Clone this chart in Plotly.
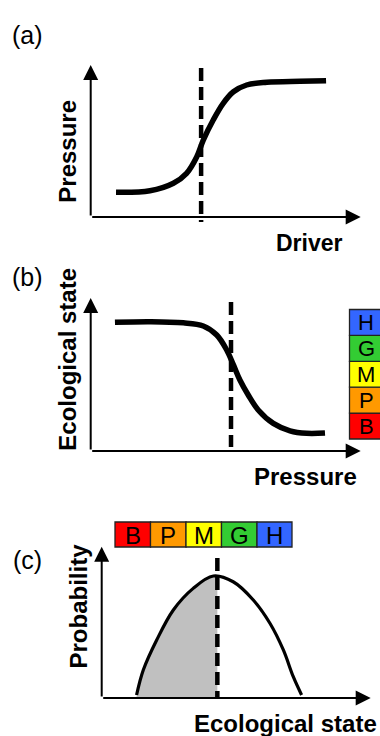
import plotly.graph_objects as go

W, H = 380, 736

# ---------------- data (abstract units, 0-100 on each axis) ----------------
# Panel (a): Driver -> Pressure
a_x = [9.4, 22.0, 30.7, 35.6, 39.4, 41.8, 45.5, 49.2, 53.0, 57.9, 65.4, 77.7, 87.4]
a_y = [16.5, 17.5, 22.5, 29.1, 40.2, 51.3, 64.7, 75.8, 83.5, 88.0, 89.8, 90.5, 90.9]
a_thr = 41.0
a_thr_span = [99.3, -3.3]

# Panel (b): Pressure -> Ecological state
b_x = [9.0, 22.0, 34.4, 41.8, 46.8, 50.5, 53.0, 55.4, 58.5, 62.2, 67.8, 74.0, 80.2, 87.0]
b_y = [85.2, 85.6, 84.9, 82.8, 76.8, 66.9, 57.0, 47.0, 37.1, 27.2, 18.3, 13.4, 11.7, 11.9]
b_thr = 52.1
b_thr_span = [98.7, 2.6]

# Panel (c): Ecological state -> Probability
c_x = [13.0, 15.5, 20.5, 26.7, 34.1, 41.6, 49.0, 56.5, 62.7, 67.7, 71.4, 74.5]
c_y = [2.0, 18.5, 38.4, 58.3, 72.6, 80.8, 77.0, 64.9, 49.5, 31.8, 14.1, 2.0]
c_shade_x = [13.0, 15.5, 20.5, 26.7, 34.1, 41.6, 43.1]
c_shade_y = [2.0, 18.5, 38.4, 58.3, 72.6, 80.8, 80.7]
c_thr = 43.1
c_thr_span = [92.7, 0.7]

# Ecological status classes
classes = ["B", "P", "M", "G", "H"]
class_colors = ["#FF0000", "#FF9900", "#FFFF00", "#33CC33", "#3366FF"]

panel_labels = ["(a)", "(b)", "(c)"]
x_titles = ["Driver", "Pressure", "Ecological state"]
y_titles = ["Pressure", "Ecological state", "Probability"]

# ---------------- layout geometry (pixels) ----------------
FONT = "Liberation Sans, Arial, Helvetica, sans-serif"
panels = [
    dict(ox=90.7, oy=217.0, x100=360.0, y100=67.0, tipx=360.7, tipy=65.0,
         box=(70, 40, 375, 235)),
    dict(ox=90.7, oy=451.0, x100=360.0, y100=300.0, tipx=360.7, tipy=298.0,
         box=(70, 285, 375, 462)),
    dict(ox=101.7, oy=698.0, x100=370.0, y100=547.0, tipx=370.7, tipy=546.7,
         box=(80, 535, 378, 710)),
]

fig = go.Figure()
layout_axes = {}
annotations = []
shapes = []

for i, p in enumerate(panels):
    sx = (p["x100"] - p["ox"]) / 100.0
    sy = (p["oy"] - p["y100"]) / 100.0
    x0, y0, x1, y1 = p["box"]
    xr = [(x0 - p["ox"]) / sx, (x1 - p["ox"]) / sx]
    yr = [(p["oy"] - y1) / sy, (p["oy"] - y0) / sy]
    xn = "xaxis" if i == 0 else f"xaxis{i+1}"
    yn = "yaxis" if i == 0 else f"yaxis{i+1}"
    xa = "x" if i == 0 else f"x{i+1}"
    ya = "y" if i == 0 else f"y{i+1}"
    layout_axes[xn] = dict(domain=[x0 / W, x1 / W], range=xr, visible=False,
                           anchor=ya, fixedrange=True)
    layout_axes[yn] = dict(domain=[1 - y1 / H, 1 - y0 / H], range=yr, visible=False,
                           anchor=xa, fixedrange=True)
    p["xa"], p["ya"] = xa, ya
    tipx = (p["tipx"] - p["ox"]) / sx
    tipy = (p["oy"] - p["tipy"]) / sy
    for (tx, ty) in [(tipx, 0), (0, tipy)]:
        annotations.append(dict(
            x=tx, y=ty, ax=0, ay=0, xref=xa, yref=ya, axref=xa, ayref=ya,
            text="", showarrow=True, arrowhead=2, arrowsize=1.5, arrowwidth=2,
            arrowcolor="black", standoff=0, startstandoff=0))

pa, pb, pc = panels

# shaded area in (c)
fig.add_trace(go.Scatter(x=c_shade_x, y=c_shade_y, mode="lines", fill="tozeroy",
                         fillcolor="#C0C0C0", line=dict(width=0, shape="spline"),
                         xaxis=pc["xa"], yaxis=pc["ya"], hoverinfo="skip"))

curves = [(a_x, a_y, pa, 5.5), (b_x, b_y, pb, 5.5), (c_x, c_y, pc, 3.2)]
for cx, cy, p, w in curves:
    fig.add_trace(go.Scatter(x=cx, y=cy, mode="lines",
                             line=dict(color="black", width=w, shape="spline", smoothing=1.0),
                             xaxis=p["xa"], yaxis=p["ya"], hoverinfo="skip"))

thrs = [(a_thr, a_thr_span, pa), (b_thr, b_thr_span, pb), (c_thr, c_thr_span, pc)]
for t, span, p in thrs:
    fig.add_trace(go.Scatter(x=[t, t], y=span, mode="lines",
                             line=dict(color="black", width=4.5, dash="13px,6px"),
                             xaxis=p["xa"], yaxis=p["ya"], hoverinfo="skip"))

def px(x):
    return x / W

def py(y):
    return 1 - y / H

# panel letters
for lab, (lx, ly) in zip(panel_labels, [(28, 35), (27.5, 277), (27, 560)]):
    annotations.append(dict(x=px(lx), y=py(ly), xref="paper", yref="paper", text=lab,
                            showarrow=False, xanchor="center", yanchor="middle",
                            font=dict(family=FONT, size=25, color="black")))

# x titles
for t, (lx, ly), fs in zip(x_titles, [(309.7, 242.6), (305, 476.7), (285, 723)], [23, 24, 24]):
    annotations.append(dict(x=px(lx), y=py(ly), xref="paper", yref="paper",
                            text=f"<b>{t}</b>", showarrow=False,
                            xanchor="center", yanchor="middle",
                            font=dict(family=FONT, size=fs, color="black")))
# y titles (rotated)
for t, (lx, ly) in zip(y_titles, [(66.7, 151), (66.7, 359), (77.5, 606)]):
    annotations.append(dict(x=px(lx), y=py(ly), xref="paper", yref="paper",
                            text=f"<b>{t}</b>", showarrow=False, textangle=-90,
                            xanchor="center", yanchor="middle",
                            font=dict(family=FONT, size=24, color="black")))

# class boxes: vertical stack in (b) (bottom B -> top H)
stack_x0, stack_x1 = 349.5, 383.0
stack_bottom, stack_top = 439.0, 309.5
step = (stack_bottom - stack_top) / len(classes)
for k, (c, col) in enumerate(zip(classes, class_colors)):
    yb = stack_bottom - k * step
    yt = yb - step
    shapes.append(dict(type="rect", xref="paper", yref="paper",
                       x0=px(stack_x0), x1=px(stack_x1), y0=py(yb), y1=py(yt),
                       fillcolor=col, line=dict(color="#222222", width=1.3)))
    annotations.append(dict(x=px(366.0), y=py((yb + yt) / 2 + 0.5), xref="paper", yref="paper",
                            text=c, showarrow=False, xanchor="center", yanchor="middle",
                            font=dict(family=FONT, size=22, color="black")))

# horizontal row in (c)
row_edges = [115.0, 150.5, 186.0, 221.5, 257.0, 292.0]
row_y0, row_y1 = 547.0, 522.0
for k, (c, col) in enumerate(zip(classes, class_colors)):
    xl, xr_ = row_edges[k], row_edges[k + 1]
    shapes.append(dict(type="rect", xref="paper", yref="paper",
                       x0=px(xl), x1=px(xr_), y0=py(row_y0), y1=py(row_y1),
                       fillcolor=col, line=dict(color="#222222", width=1.3)))
    annotations.append(dict(x=px((xl + xr_) / 2), y=py((row_y0 + row_y1) / 2 + 0.5),
                            xref="paper", yref="paper",
                            text=c, showarrow=False, xanchor="center", yanchor="middle",
                            font=dict(family=FONT, size=24, color="black")))

fig.update_layout(
    width=W, height=H,
    margin=dict(l=0, r=0, t=0, b=0),
    paper_bgcolor="white", plot_bgcolor="rgba(0,0,0,0)",
    showlegend=False,
    annotations=annotations,
    shapes=shapes,
    **layout_axes,
)

fig.write_html("out.html", config={"displayModeBar": False, "staticPlot": True})
